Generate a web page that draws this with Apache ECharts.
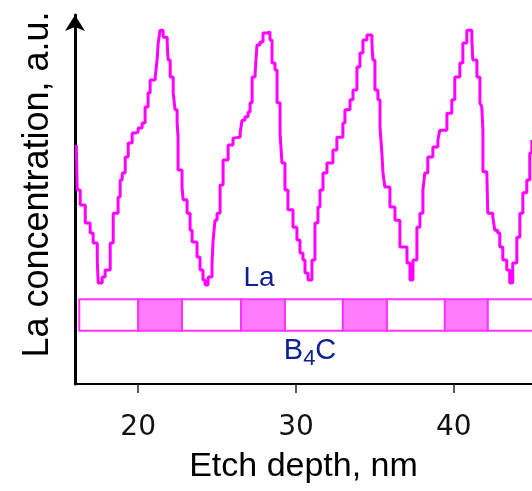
<!DOCTYPE html>
<html>
<head>
<meta charset="utf-8">
<script src="https://cdn.jsdelivr.net/npm/echarts@6/dist/echarts.min.js"></script>
<style>
  html, body { margin: 0; padding: 0; background: #fff; }
  #chart { width: 532px; height: 491px; }
</style>
</head>
<body>
<div id="chart"></div>
<script>
// etch depth (nm) and La signal (a.u.)
const depth = [16.08,16.14,16.33,16.65,16.96,17.15,17.41,17.47,17.72,17.91,
  18.23,18.42,18.73,18.86,18.99,19.18,19.37,19.62,19.81,20.00,
  20.25,20.44,20.63,20.76,21.08,21.20,21.27,21.39,21.58,21.84,
  21.90,22.03,22.22,22.34,22.47,22.53,22.53,22.78,22.85,23.10,
  23.29,23.42,23.73,23.92,24.11,24.24,24.43,24.68,24.75,24.87,
  25.00,25.19,25.38,25.70,26.01,26.14,26.46,26.58,26.77,26.96,
  27.09,27.22,27.41,27.53,27.72,27.91,28.16,28.35,28.48,28.67,
  28.80,28.99,29.11,29.30,29.49,29.81,30.06,30.25,30.44,30.57,
  30.76,31.01,31.20,31.39,31.52,31.71,31.96,32.34,32.59,32.97,
  33.10,33.42,33.61,33.86,34.05,34.24,34.49,34.81,34.87,35.00,
  35.19,35.32,35.44,35.51,35.63,35.95,36.27,36.58,37.03,37.22,
  37.41,37.66,37.85,38.04,38.16,38.35,38.67,38.99,39.11,39.56,
  39.87,40.06,40.38,40.57,40.82,41.14,41.20,41.46,41.65,41.77,
  41.84,41.84,42.09,42.15,42.47,42.59,42.78,42.91,43.10,43.35,
  43.54,43.73,43.99,44.18,44.37,44.62,44.81,44.94];
const laSignal = [64.8,52.6,48.5,43.6,40.9,38.2,33.6,27.4,29.0,30.9,
  38.2,46.3,50.7,55.3,57.2,61.5,65.3,68.0,68.3,69.4,
  70.7,75.1,78.9,82.4,83.2,87.8,92.4,95.9,94.0,92.4,
  87.8,83.2,78.9,74.3,70.7,66.9,58.0,53.4,49.9,46.3,
  41.7,38.5,34.4,30.9,28.2,26.8,29.0,32.8,39.0,44.4,
  46.3,53.9,60.7,64.8,66.7,66.9,68.0,71.5,72.4,73.7,
  76.2,83.2,84.3,91.9,92.7,95.1,95.4,93.2,87.0,85.1,
  76.2,68.0,59.9,52.6,47.2,42.5,39.0,35.5,33.6,30.1,
  28.2,33.6,43.6,48.0,52.6,57.2,59.9,63.4,66.9,70.7,
  74.3,77.0,79.7,85.9,89.7,93.2,94.6,92.4,87.8,79.7,
  77.0,69.6,62.6,57.2,53.4,48.0,44.4,37.1,32.8,28.2,
  33.6,42.5,46.3,52.6,57.2,61.5,64.2,66.1,68.8,73.4,
  77.0,83.2,87.0,92.4,95.9,93.2,87.8,83.2,76.2,75.1,
  68.8,57.5,56.6,46.3,45.3,41.7,40.9,37.1,33.6,30.9,
  27.4,32.8,39.8,46.3,51.8,55.3,62.6,66.1];

// multilayer stack: layer boundaries (nm) and material of each layer
const layerEdges = [16.27, 20.0, 22.78, 26.52, 29.30, 32.97, 35.76, 39.43, 42.15, 45.3];
const layerNames = ['B4C', 'La', 'B4C', 'La', 'B4C', 'La', 'B4C', 'La', 'B4C'];

const xTicks = [20, 30, 40];

const chart = echarts.init(document.getElementById('chart'));

const labelColor = '#0f2090';

chart.setOption({
  animation: false,
  grid: { left: 75, right: 0, top: 15, bottom: 107 },
  xAxis: {
    type: 'value',
    min: 16,
    max: 44.95,
    name: 'Etch depth, nm',
    nameLocation: 'middle',
    nameGap: 66,
    nameTextStyle: { fontFamily: 'Liberation Sans', fontSize: 34, color: '#000' },
    axisLine: { lineStyle: { color: '#000', width: 2 } },
    axisTick: { customValues: xTicks, length: 9, lineStyle: { color: '#222', width: 1.5 } },
    axisLabel: { customValues: xTicks, margin: 30, fontFamily: 'DejaVu Sans', fontSize: 28, color: '#111' },
    splitLine: { show: false }
  },
  yAxis: {
    type: 'value',
    min: 0,
    max: 100,
    name: 'La concentration, a.u.',
    nameLocation: 'middle',
    nameGap: 19,
    nameTextStyle: { fontFamily: 'Liberation Sans', fontSize: 36, color: '#000', padding: [0, 0, 0, 30] },
    axisLine: {
      show: true,
      symbol: ['none', 'arrow'],
      symbolSize: [15, 16],
      lineStyle: { color: '#000', width: 3 }
    },
    axisTick: { show: false },
    axisLabel: { show: false },
    splitLine: { show: false }
  },
  series: [
    {
      type: 'custom',
      clip: true,
      data: layerNames.map((n, i) => [layerEdges[i], layerEdges[i + 1]]),
      encode: { x: [0, 1] },
      renderItem(params, api) {
        const p0 = api.coord([api.value(0), 23.0]);
        const p1 = api.coord([api.value(1), 14.4]);
        const isLa = layerNames[params.dataIndex] === 'La';
        return {
          type: 'rect',
          shape: { x: p0[0], y: p0[1], width: p1[0] - p0[0], height: p1[1] - p0[1] },
          style: { fill: isLa ? '#ff7bff' : '#ffffff', stroke: '#ff33ff', lineWidth: 2 }
        };
      }
    },
    {
      type: 'line',
      data: depth.map((d, i) => [d, laSignal[i]]),
      step: 'end',
      symbol: 'none',
      lineStyle: { color: '#ff00ff', width: 3 }
    },
    {
      type: 'scatter',
      symbolSize: 0,
      itemStyle: { color: 'transparent' },
      data: [[27.66, 28.7]],
      label: {
        show: true, position: 'inside', formatter: 'La',
        fontFamily: 'Liberation Sans', fontSize: 28, color: labelColor, opacity: 1
      }
    },
    {
      type: 'scatter',
      symbolSize: 0,
      itemStyle: { color: 'transparent' },
      data: [[30.89, 9.0]],
      label: {
        show: true, position: 'inside', opacity: 1,
        formatter: '{b|B}{s|4}{b|C}',
        rich: {
          b: { fontFamily: 'Liberation Sans', fontSize: 29, lineHeight: 29, color: labelColor, verticalAlign: 'top' },
          s: { fontFamily: 'Liberation Sans', fontSize: 22, lineHeight: 22, color: labelColor, verticalAlign: 'top', padding: [12, 0, 0, 0] }
        }
      }
    }
  ]
});
</script>
</body>
</html>
